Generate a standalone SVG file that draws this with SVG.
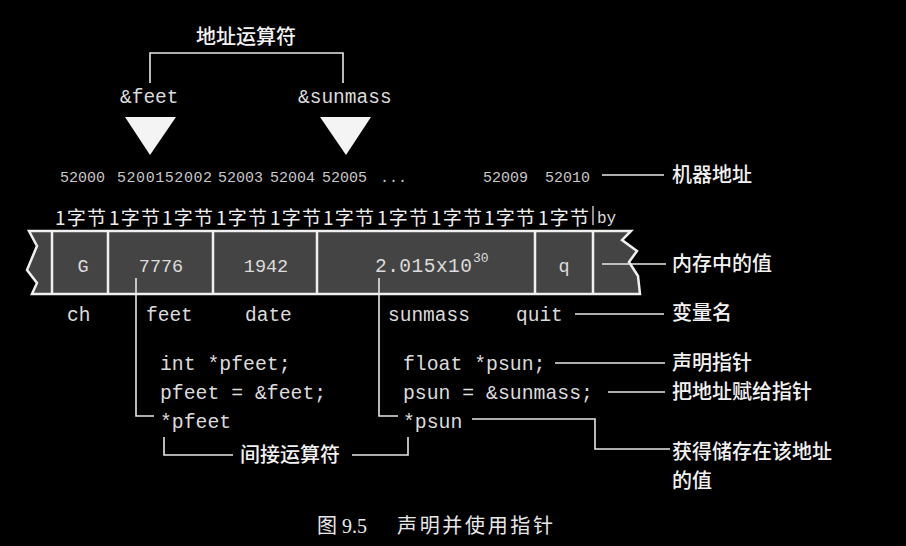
<svg xmlns="http://www.w3.org/2000/svg" width="906" height="546" viewBox="0 0 906 546">
<style>
.mono{font-family:"Liberation Mono","DejaVu Sans Mono",monospace;fill:#dcdcdc}
.addr{font-family:"Liberation Mono","DejaVu Sans Mono",monospace;font-size:15px;fill:#c8c8c8}
.cjk{font-family:"Noto Sans CJK SC","Noto Sans",sans-serif;fill:#f2f2f2;font-size:20px;font-weight:500}
.byte{font-family:"Noto Sans CJK SC","Noto Sans",sans-serif;fill:#eeeeee;font-size:19px}
.cap{font-family:"Liberation Serif","Noto Sans CJK SC",serif;fill:#e8e8e8;font-size:20px}
.ln{stroke:#e8e8e8;stroke-width:1.6;fill:none}
.div{stroke:#f0f0f0;stroke-width:2.5}
</style>
<rect x="0" y="0" width="906" height="546" fill="#000"/>

<g id="address-operator">
<text class="cjk" x="246" y="44" font-size="21" text-anchor="middle">地址运算符</text>
<path class="ln" d="M150 83 V53 H343 V83"/>
<text class="mono" x="120" y="103" font-size="19.5">&amp;feet</text>
<text class="mono" x="298" y="103" font-size="19.5">&amp;sunmass</text>
<polygon points="125,117 176,117 150,155" fill="#f4f4f4"/>
<polygon points="320,117 371,117 346,155" fill="#f4f4f4"/>
</g>

<g id="addresses">
<text class="addr" x="60" y="182">52000</text>
<text class="addr" x="117" y="182" textLength="95" lengthAdjust="spacing">5200152002</text>
<text class="addr" x="218" y="182">52003</text>
<text class="addr" x="270" y="182">52004</text>
<text class="addr" x="322" y="182">52005</text>
<text class="addr" x="380" y="182">...</text>
<text class="addr" x="483" y="182">52009</text>
<text class="addr" x="545" y="182">52010</text>
</g>

<g id="bytes">
<text class="byte" x="55" y="225" textLength="51" lengthAdjust="spacing">1字节</text>
<text class="byte" x="109" y="225" textLength="51" lengthAdjust="spacing">1字节</text>
<text class="byte" x="162" y="225" textLength="51" lengthAdjust="spacing">1字节</text>
<text class="byte" x="216" y="225" textLength="51" lengthAdjust="spacing">1字节</text>
<text class="byte" x="270" y="225" textLength="51" lengthAdjust="spacing">1字节</text>
<text class="byte" x="323" y="225" textLength="51" lengthAdjust="spacing">1字节</text>
<text class="byte" x="377" y="225" textLength="51" lengthAdjust="spacing">1字节</text>
<text class="byte" x="431" y="225" textLength="51" lengthAdjust="spacing">1字节</text>
<text class="byte" x="484" y="225" textLength="51" lengthAdjust="spacing">1字节</text>
<text class="byte" x="538" y="225" textLength="51" lengthAdjust="spacing">1字节</text>
<line x1="593" y1="206" x2="593" y2="225" stroke="#ddd" stroke-width="1.3"/>
<text class="mono" x="597" y="223" font-size="16">by</text>
</g>

<g id="memory-strip">
<path d="M29 231 H631 L622 240 L637 251 L629 262 L638 276 L640 294 H32 L37 283 L27 270 L37 246 Z" fill="#444" stroke="#f0f0f0" stroke-width="2.5" stroke-linejoin="miter"/>
<line class="div" x1="52" y1="231" x2="52" y2="294"/>
<line class="div" x1="108" y1="231" x2="108" y2="294"/>
<line class="div" x1="213" y1="231" x2="213" y2="294"/>
<line class="div" x1="317" y1="231" x2="317" y2="294"/>
<line class="div" x1="535" y1="231" x2="535" y2="294"/>
<line class="div" x1="593" y1="231" x2="593" y2="294"/>
<text class="mono" x="83" y="272" font-size="18.5" text-anchor="middle">G</text>
<text class="mono" x="161" y="272" font-size="18.5" text-anchor="middle">7776</text>
<text class="mono" x="266" y="272" font-size="18.5" text-anchor="middle">1942</text>
<text class="mono" x="375" y="272" font-size="19.5" textLength="97" lengthAdjust="spacing">2.015x10</text>
<text class="mono" x="473" y="262" font-size="13">30</text>
<text class="mono" x="564" y="272" font-size="18.5" text-anchor="middle">q</text>
</g>

<g id="names">
<text class="mono" x="67" y="321" font-size="19.5">ch</text>
<text class="mono" x="146" y="321" font-size="19.5">feet</text>
<text class="mono" x="245" y="321" font-size="19.5">date</text>
<text class="mono" x="388" y="321" font-size="19.5">sunmass</text>
<text class="mono" x="516" y="321" font-size="19.5">quit</text>
</g>

<g id="code">
<text class="mono" x="160" y="370" font-size="19.8">int *pfeet;</text>
<text class="mono" x="160" y="399" font-size="19.8">pfeet = &amp;feet;</text>
<text class="mono" x="160" y="428" font-size="19.8">*pfeet</text>
<text class="mono" x="403" y="370" font-size="19.8">float *psun;</text>
<text class="mono" x="403" y="399" font-size="19.8">psun = &amp;sunmass;</text>
<text class="mono" x="403" y="428" font-size="19.8">*psun</text>
</g>

<g id="labels">
<text class="cjk" x="672" y="182">机器地址</text>
<text class="cjk" x="672" y="271">内存中的值</text>
<text class="cjk" x="672" y="320">变量名</text>
<text class="cjk" x="672" y="370">声明指针</text>
<text class="cjk" x="672" y="399">把地址赋给指针</text>
<text class="cjk" x="672" y="459" font-size="19.5">获得储存在该地址</text>
<text class="cjk" x="672" y="488" font-size="19.5">的值</text>
<text class="cjk" x="240" y="462">间接运算符</text>
</g>

<g id="connectors">
<line class="ln" x1="602" y1="175" x2="664" y2="175"/>
<line class="ln" x1="602" y1="264" x2="666" y2="264"/>
<line class="ln" x1="575" y1="314" x2="664" y2="314"/>
<line class="ln" x1="555" y1="363" x2="665" y2="363"/>
<line class="ln" x1="608" y1="392" x2="665" y2="392"/>
<path class="ln" d="M136 278 V416 H154"/>
<path class="ln" d="M379 278 V416 H398"/>
<path class="ln" d="M472 419 H595 V449 H670"/>
<path class="ln" d="M164 437 V455 H233"/>
<path class="ln" d="M352 455 H408 V437"/>
</g>

<g id="caption">
<text class="cap" x="317" y="533">图 9.5</text>
<text class="cap" x="397" y="533" font-family="Noto Sans CJK SC,sans-serif" textLength="156" lengthAdjust="spacing">声明并使用指针</text>
</g>
</svg>
